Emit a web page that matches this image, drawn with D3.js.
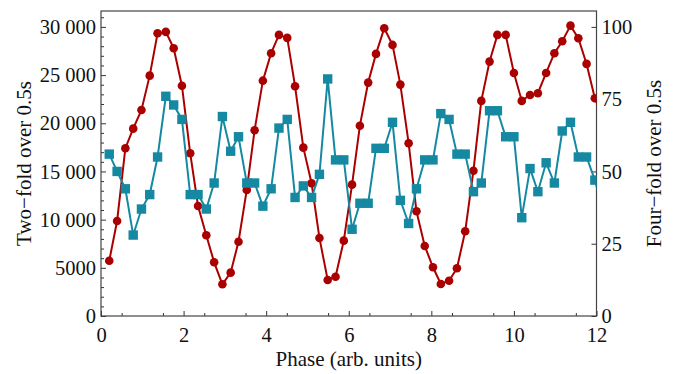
<!DOCTYPE html>
<html>
<head>
<meta charset="utf-8">
<script src="https://cdn.jsdelivr.net/npm/d3@7"></script>
<style>
    body { margin: 0; background: #fff; }
    svg text { font-family: "Liberation Serif", "Times New Roman", Times, serif !important; }
</style>
</head>
<body>
<div id="chart"></div>
<script>
// phase positions (arb. units), shared by both series
const phase = [0.20, 0.39, 0.59, 0.78, 0.98, 1.18, 1.37, 1.57, 1.76, 1.96,
    2.16, 2.35, 2.55, 2.74, 2.94, 3.14, 3.33, 3.53, 3.72, 3.92,
    4.12, 4.31, 4.51, 4.70, 4.90, 5.10, 5.29, 5.49, 5.68, 5.88,
    6.08, 6.27, 6.47, 6.66, 6.86, 7.06, 7.25, 7.45, 7.64, 7.84,
    8.04, 8.23, 8.43, 8.62, 8.82, 9.02, 9.21, 9.41, 9.60, 9.80,
    10.00, 10.19, 10.39, 10.58, 10.78, 10.98, 11.17, 11.37, 11.56, 11.76,
    11.96, 12.15];

// two-fold counts (left axis)
const twoFold = [5740, 9860, 17410, 19440, 21380, 24940, 29340, 29480, 27790, 23900,
    16890, 11420, 8380, 5570, 3290, 4500, 7710, 13080, 19280, 24420,
    27270, 29170, 28860, 23840, 17470, 13770, 8100, 3740, 4080, 7820,
    13630, 19750, 24220, 27200, 29860, 28130, 24010, 17930, 10870, 7270,
    5060, 3320, 3660, 4950, 8790, 15080, 22320, 26400, 29170, 29170,
    25220, 22320, 22940, 23120, 25220, 27270, 28510, 30130, 28830, 26160,
    22600, 20660];

// four-fold counts (right axis)
const fourFold = [56, 50, 44, 28, 37, 42, 55, 76, 73, 68,
    42, 42, 37, 46, 69, 57, 62, 46, 46, 38,
    44, 65, 68, 41, 45, 41, 49, 82, 54, 54,
    30, 39, 39, 58, 58, 67, 40, 32, 44, 54,
    54, 70, 68, 56, 56, 43, 46, 71, 71, 62,
    62, 34, 51, 43, 53, 46, 64, 67, 55, 55,
    47, 37];

const xTicks = [0, 2, 4, 6, 8, 10, 12];
const leftTicks = [0, 5000, 10000, 15000, 20000, 25000, 30000];
const rightTicks = [0, 25, 50, 75, 100];

let WIDTH = 676,
    HEIGHT = 374,
    LEFT = 101,
    RIGHT = 596.5,
    TOP = 11,
    BOTTOM = 316,
    RED = "#aa0000",
    BLUE = "#1589a1",
    TICK_FONT = 20.5,
    TITLE_FONT = 21;

let svg = d3.select("#chart").append("svg")
    .attr("width", WIDTH)
    .attr("height", HEIGHT);

let x = d3.scaleLinear().domain([0, 12]).range([LEFT, RIGHT]);
let yLeft = d3.scaleLinear().domain([0, 31650]).range([BOTTOM, TOP]);
let yRight = d3.scaleLinear().domain([0, 105.5]).range([BOTTOM, TOP]);

svg.append("defs").append("clipPath")
    .attr("id", "plot-clip")
    .append("rect")
    .attr("x", LEFT)
    .attr("y", TOP)
    .attr("width", RIGHT - LEFT)
    .attr("height", BOTTOM - TOP);

// thousands with a space, but not for 4-digit numbers
function fmtLeft(d) {
    if (d < 10000) return String(d);
    return d3.format(",")(d).replace(/,/g, " ");
}

// axes (ticks point inward)
let xAxis = svg.append("g")
    .attr("transform", `translate(0,${BOTTOM})`)
    .call(d3.axisBottom(x).tickValues(xTicks).tickSize(-5).tickPadding(11).tickFormat(d3.format("d")));
let xMinor = svg.append("g")
    .attr("transform", `translate(0,${BOTTOM})`)
    .call(d3.axisBottom(x).tickValues(d3.range(0.5, 12, 1)).tickSize(-3).tickFormat(""));

let yAxisL = svg.append("g")
    .attr("transform", `translate(${LEFT},0)`)
    .call(d3.axisLeft(yLeft).tickValues(leftTicks).tickSize(-5).tickPadding(5).tickFormat(fmtLeft));
let yMinorL = svg.append("g")
    .attr("transform", `translate(${LEFT},0)`)
    .call(d3.axisLeft(yLeft).tickValues(d3.range(0, 31001, 1000).filter(v => v % 5000 !== 0)).tickSize(-3).tickFormat(""));

let yAxisR = svg.append("g")
    .attr("transform", `translate(${RIGHT},0)`)
    .call(d3.axisRight(yRight).tickValues(rightTicks).tickSize(-5).tickPadding(5).tickFormat(d3.format("d")));

[xAxis, xMinor, yAxisL, yMinorL, yAxisR].forEach(g => {
    g.attr("font-family", null);
    g.select(".domain").remove();
    g.selectAll("line").attr("stroke", "#333").attr("stroke-width", 1);
    g.selectAll("text")
        .attr("fill", "#111")
        .style("font-size", TICK_FONT + "px");
});

// frame
svg.append("rect")
    .attr("x", LEFT)
    .attr("y", TOP)
    .attr("width", RIGHT - LEFT)
    .attr("height", BOTTOM - TOP)
    .attr("fill", "none")
    .attr("stroke", "#444")
    .attr("stroke-width", 1.2);

let plot = svg.append("g").attr("clip-path", "url(#plot-clip)");

// two-fold: red circles
let redData = phase.map((p, i) => [p, twoFold[i]]);
plot.append("path")
    .datum(redData)
    .attr("fill", "none")
    .attr("stroke", RED)
    .attr("stroke-width", 2)
    .attr("d", d3.line().x(d => x(d[0])).y(d => yLeft(d[1])));
plot.append("g")
    .selectAll("circle")
    .data(redData)
    .join("circle")
    .attr("cx", d => x(d[0]))
    .attr("cy", d => yLeft(d[1]))
    .attr("r", 4.3)
    .attr("fill", RED);

// four-fold: blue squares
let blueData = phase.map((p, i) => [p, fourFold[i]]);
const SQ = 9.4;
plot.append("path")
    .datum(blueData)
    .attr("fill", "none")
    .attr("stroke", BLUE)
    .attr("stroke-width", 2)
    .attr("d", d3.line().x(d => x(d[0])).y(d => yRight(d[1])));
plot.append("g")
    .selectAll("rect")
    .data(blueData)
    .join("rect")
    .attr("x", d => x(d[0]) - SQ / 2)
    .attr("y", d => yRight(d[1]) - SQ / 2)
    .attr("width", SQ)
    .attr("height", SQ)
    .attr("fill", BLUE);

// axis titles
svg.append("text")
    .attr("x", (LEFT + RIGHT) / 2)
    .attr("y", 366)
    .attr("text-anchor", "middle")
    .style("font-size", TITLE_FONT + "px")
    .attr("fill", "#111")
    .text("Phase (arb. units)");

svg.append("text")
    .attr("transform", `translate(31,${(TOP + BOTTOM) / 2}) rotate(-90)`)
    .attr("text-anchor", "middle")
    .style("font-size", TITLE_FONT + "px")
    .attr("fill", "#111")
    .text("Two\u2212fold over 0.5s");

svg.append("text")
    .attr("transform", `translate(661,${(TOP + BOTTOM) / 2}) rotate(-90)`)
    .attr("text-anchor", "middle")
    .style("font-size", TITLE_FONT + "px")
    .attr("fill", "#111")
    .text("Four\u2212fold over 0.5s");
</script>
</body>
</html>
